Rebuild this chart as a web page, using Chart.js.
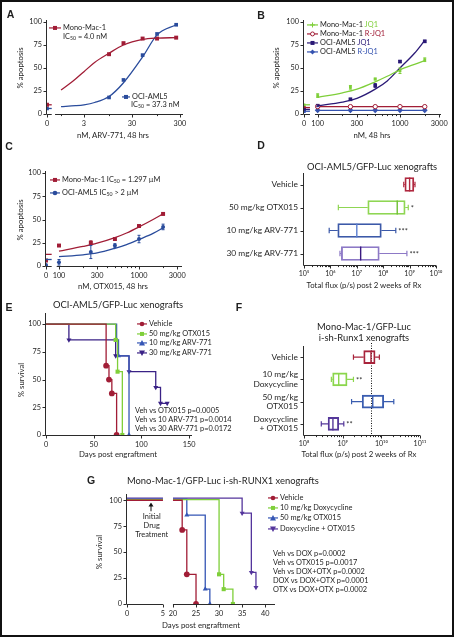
<!DOCTYPE html>
<html>
<head>
<meta charset="utf-8">
<script src="https://cdn.jsdelivr.net/npm/chart.js@4.4.1/dist/chart.umd.min.js"></script>
<style>
  html, body { margin: 0; padding: 0; background: #fff; }
  #fig { position: relative; width: 454px; height: 637px; overflow: hidden; font-family: Lato, 'Open Sans', sans-serif; color: #1e1e1e; }
  #fig canvas { position: absolute; }
  #frame { position: absolute; left: 0; top: 0; width: 454px; height: 637px; border: 2px solid #111; box-sizing: border-box; }
  .t { position: absolute; white-space: nowrap; line-height: 1; }
  .L { font: 700 10.5px 'Liberation Sans', Arial, sans-serif; }
  .H { font-size: 9.4px; }
  .X { font-size: 7.8px; }
  .G { font-size: 7.4px; }
  .t svg { vertical-align: middle; margin-right: 2px; }
  sub { font-size: 70%; vertical-align: -1px; line-height: 0; }
</style>
</head>
<body>
<div id="fig"><div id="frame"></div></div>
<script>
// ---------- data ----------
const pctTicks = [0, 25, 50, 75, 100];

// A: ARV-771 dose response
const aConc       = [0, 10, 20, 50, 100, 250];
const aMonoMac    = [10, 65, 77, 82, 82, 83];
const aOciAml5    = [6, 18, 37, 64, 87, 97];
const aFitConc    = [1, 2, 3, 5, 10, 20, 50, 100, 250];
const aFitMonoMac = [26, 38, 46, 56, 66, 75, 81, 82.5, 83];
const aFitOciAml5 = [8, 9, 10, 12.5, 19, 34, 62, 86, 97];
const aXTicks     = [0, 1, 3, 10, 30, 100, 300];
const aXLabels    = ['0', '', '3', '', '30', '', '300'];

// B: JQ1 / R-JQ1
const bConc        = [0, 100, 250, 500, 1000, 2000];
const bMonoJQ1     = [10, 20, 29, 38, 47, 59];
const bMonoJQ1Err  = [0, 2, 2, 1, 3, 2];
const bMonoRJQ1    = [7, 8, 8, 8, 8, 8];
const bOciJQ1      = [5, 9, 16, 31, 57, 79];
const bOciJQ1Err   = [0, 1, 1, 2, 1, 1];
const bOciRJQ1     = [3, 4, 4, 4, 4, 4];
const bFitConc     = [100, 200, 300, 500, 700, 1000, 1500, 2000];
const bFitMonoJQ1  = [18, 23, 27, 35, 41, 48, 54, 58];
const bFitOciJQ1   = [9, 13, 17, 27, 36, 50, 66, 80];
const bXTicks      = [0, 100, 200, 300, 400, 500, 600, 700, 800, 900, 1000, 2000, 3000];
const bXLabels     = ['0', '100', '', '300', '', '', '', '', '', '', '1000', '', '3000'];

// C: OTX015 dose response
const cConc        = [0, 100, 250, 500, 1000, 2000];
const cMonoMac     = [6, 22, 25, 29, 43, 56];
const cMonoMacErr  = [0, 0, 2, 1, 1, 1];
const cOciAml5     = [1, 4, 15, 22, 29, 42];
const cOciAml5Err  = [0, 3, 7, 2, 4, 3];
const cZeroFit     = [12.5, 7];
const cFitConc     = [100, 200, 300, 500, 700, 1000, 1500, 2000];
const cFitMonoMac  = [16, 21, 24.5, 30.5, 35.5, 42, 50, 56];
const cFitOciAml5  = [10, 12, 14, 19, 23, 28.5, 35, 41];

// D: OCI-AML5 xenograft flux
const dGroups = ['Vehicle', '50 mg/kg OTX015', '10 mg/kg ARV-771', '30 mg/kg ARV-771'];
const dMin    = [6.0e8, 2.0e6, 9.0e5, 2.3e6];
const dQ1     = [6.6e8, 2.6e7, 1.9e6, 2.6e6];
const dMedian = [1.0e9, 3.4e8, 1.0e7, 1.4e7];
const dQ3     = [1.45e9, 6.8e8, 8.5e7, 7.1e7];
const dMax    = [1.6e9, 8.9e8, 3.0e8, 7.9e8];
const dStars  = ['', '*', '***', '***'];

// E: OCI-AML5 survival
const eVehDays   = [0, 63, 66, 69, 74];
const eVehSurv   = [100, 62.5, 50, 37.5, 0];
const eOtxDays   = [0, 73, 75, 80];
const eOtxSurv   = [100, 85.7, 57.1, 0];
const eArv10Days = [0, 74, 76, 87];
const eArv10Surv = [100, 85.7, 71.4, 0];
const eArv30Days = [0, 24, 73, 87, 115, 120, 127];
const eArv30Surv = [100, 85.7, 71.4, 57.1, 42.9, 28.6, 28.6];

// F: Mono-Mac-1 xenograft flux
const fGroups  = ['Vehicle', ['10 mg/kg', 'Doxycycline'], ['50 mg/kg', 'OTX015'], ['Doxycycline', '+ OTX015']];
const fMin     = [1.9e9, 5.1e8, 1.7e9, 2.8e8];
const fQ1      = [3.5e9, 5.5e8, 3.2e9, 4.2e8];
const fMedian  = [5.4e9, 7.9e8, 6.0e9, 5.6e8];
const fQ3      = [6.9e9, 1.3e9, 1.15e10, 7.9e8];
const fMax     = [8.9e9, 1.9e9, 2.1e10, 1.07e9];
const fStars   = ['', '**', '', '**'];
const fRefLine = 5.4e9;

// G: Mono-Mac-1 survival (broken day axis)
const gLeftDays  = [0, 5];
const gVehDays   = [20, 22, 23, 25];
const gVehSurv   = [100, 71.4, 28.6, 0];
const gDoxDays   = [20, 30, 31, 33];
const gDoxSurv   = [100.5, 28.6, 14.3, 0];
const gOtxDays   = [20, 23, 27, 28];
const gOtxSurv   = [101, 85.7, 14.3, 0];
const gComboDays = [20, 35, 37, 38];
const gComboSurv = [102, 87.5, 30.5, 16];
const gXTicks    = [0, 5, 20, 25, 30, 35, 40];

// ---------- colours ----------
const RED = '#a11d36', BLUE = '#2a4c9c', GREEN = '#7fcf3a', NAVY = '#2a1976', BBLUE = '#3553b0';
const EBLUE = '#3556b5', EPURPLE = '#3a2286', GPURPLE = '#54359c';
const FONT = "Lato, 'Open Sans', sans-serif";
Chart.defaults.font.family = FONT;
Chart.defaults.color = '#1e1e1e';

// ---------- plugins ----------
const axesPlugin = {
  id: 'axes',
  beforeDatasetsDraw(chart) {
    const o = chart.options.plugins.axes || {};
    const { ctx, chartArea: ca, scales: { x, y } } = chart;
    const by = Math.round(ca.bottom) + 0.5, lx = Math.round(ca.left) - 0.5;
    ctx.save();
    ctx.strokeStyle = '#2b2b2b';
    ctx.lineWidth = 1;
    ctx.beginPath();
    const segs = o.xSeg ? o.xSeg.map(([a, b]) => [x.getPixelForValue(a), x.getPixelForValue(b)]) : [[lx, ca.right]];
    segs.forEach(([a, b]) => { ctx.moveTo(a, by); ctx.lineTo(b, by); });
    ctx.moveTo(lx, by);
    ctx.lineTo(lx, ca.top - (o.yExtra || 0));
    x.ticks.forEach((t, i) => {
      const p = Math.round(x.getPixelForTick(i)) + 0.5;
      ctx.moveTo(p, by);
      ctx.lineTo(p, by + (t.label !== '' ? 3 : 1.6));
    });
    y.ticks.forEach((t, i) => {
      const p = Math.round(y.getPixelForTick(i)) + 0.5;
      ctx.moveTo(lx, p);
      ctx.lineTo(lx - 3, p);
    });
    ctx.stroke();
    if (o.refLine) {
      const p = Math.round(x.getPixelForValue(o.refLine)) + 0.5;
      ctx.setLineDash([1, 1.5]);
      ctx.strokeStyle = '#111';
      ctx.beginPath();
      ctx.moveTo(p, ca.top - 3);
      ctx.lineTo(p, ca.bottom);
      ctx.stroke();
    }
    ctx.restore();
  }
};

const errPlugin = {
  id: 'errs',
  afterDatasetsDraw(chart) {
    const { ctx, scales: { y } } = chart;
    chart.data.datasets.forEach((ds, di) => {
      if (!ds.errors) return;
      const meta = chart.getDatasetMeta(di);
      ctx.save();
      ctx.strokeStyle = ds.borderColor;
      ctx.lineWidth = 1;
      ctx.beginPath();
      meta.data.forEach((pt, i) => {
        const e = ds.errors[i];
        if (!e) return;
        const v = ds.data[i].y, y0 = y.getPixelForValue(v - e), y1 = y.getPixelForValue(v + e);
        ctx.moveTo(pt.x, y0); ctx.lineTo(pt.x, y1);
        ctx.moveTo(pt.x - 1.5, y0); ctx.lineTo(pt.x + 1.5, y0);
        ctx.moveTo(pt.x - 1.5, y1); ctx.lineTo(pt.x + 1.5, y1);
      });
      ctx.stroke();
      ctx.restore();
    });
  }
};

const boxPlugin = {
  id: 'boxes',
  afterDatasetsDraw(chart) {
    const { ctx, scales: { x } } = chart;
    chart.data.datasets.forEach((ds, di) => {
      if (!ds.box) return;
      chart.getDatasetMeta(di).data.forEach((el, i) => {
        const y = el.y, h = el.height, b = ds.box;
        const pMin = x.getPixelForValue(b.min[i]), pMax = x.getPixelForValue(b.max[i]);
        const pQ1 = x.getPixelForValue(ds.data[i][0]), pQ3 = x.getPixelForValue(ds.data[i][1]);
        const pMed = x.getPixelForValue(b.median[i]);
        ctx.save();
        ctx.strokeStyle = ds.borderColor[i];
        ctx.lineWidth = 1.2;
        ctx.beginPath();
        ctx.moveTo(pMin, y); ctx.lineTo(pQ1, y);
        ctx.moveTo(pQ3, y); ctx.lineTo(pMax, y);
        ctx.moveTo(pMin, y - h * 0.2); ctx.lineTo(pMin, y + h * 0.2);
        ctx.moveTo(pMax, y - h * 0.2); ctx.lineTo(pMax, y + h * 0.2);
        ctx.stroke();
        ctx.strokeStyle = b.medColor[i];
        ctx.lineWidth = 1.4;
        ctx.beginPath();
        ctx.moveTo(pMed, y - h / 2); ctx.lineTo(pMed, y + h / 2);
        ctx.stroke();
        if (b.stars[i]) {
          ctx.fillStyle = '#333';
          ctx.font = `7.5px ${FONT}`;
          ctx.textBaseline = 'middle';
          ctx.fillText(b.stars[i], pMax + 2.5, y + 1);
        }
        ctx.restore();
      });
    });
  }
};

// ---------- helpers ----------
const fig = document.getElementById('fig');

function panel(rect, config, pl = 40) {
  const PR = 18, PT = 8, PB = 24;
  const w = rect.r - rect.l + pl + PR, h = rect.b - rect.t + PT + PB;
  const c = document.createElement('canvas');
  c.width = w; c.height = h;
  c.style.left = (rect.l - pl) + 'px';
  c.style.top = (rect.t - PT) + 'px';
  c.style.width = w + 'px';
  c.style.height = h + 'px';
  fig.insertBefore(c, fig.firstChild);
  const o = config.options;
  o.responsive = false;
  o.animation = false;
  o.events = [];
  o.layout = { padding: { top: PT, right: PR, left: 0, bottom: 0 } };
  o.plugins = Object.assign({ legend: { display: false }, tooltip: { enabled: false } }, o.plugins);
  o.scales.x.afterFit = s => { s.height = PB; s.paddingLeft = 0; s.paddingRight = 0; };
  o.scales.y.afterFit = s => { s.width = pl; s.paddingTop = 0; s.paddingBottom = 0; };
  config.plugins = [axesPlugin, errPlugin, boxPlugin];
  return new Chart(c, config);
}

function axis(type, min, max, tickVals, labels, size = 7.3) {
  return {
    type, min, max, bounds: 'data',
    grid: { display: false, drawTicks: false },
    border: { display: false },
    afterBuildTicks: s => { s.ticks = tickVals.map(v => ({ value: v })); },
    ticks: { autoSkip: false, maxRotation: 0, padding: 5, font: { size }, callback: (v, i) => labels[i] }
  };
}

function catAxis() {
  return {
    type: 'category',
    grid: { display: false, drawTicks: false },
    border: { display: false },
    ticks: { padding: 6, font: { size: 8.4, lineHeight: 1.12 }, color: '#1e1e1e' }
  };
}

const sup = n => '10' + String(n).split('').map(d => '⁰¹²³⁴⁵⁶⁷⁸⁹'[d]).join('');
function logTicks(e0, e1) {
  const v = [], l = [];
  for (let e = e0; e <= e1; e++) {
    v.push(10 ** e); l.push(sup(e));
    if (e < e1) for (let k = 2; k <= 9; k++) { v.push(k * 10 ** e); l.push(''); }
  }
  return [v, l];
}

const pts = (xs, ys, zero) => xs.map((c, i) => ({ x: c === 0 ? zero : c, y: ys[i] }));
const scatter = (data, color, style, r, extra = {}) => Object.assign({
  data, showLine: false, borderColor: color, backgroundColor: color, pointStyle: style, pointRadius: r, pointBorderWidth: 0
}, extra);
const curve = (data, color) => ({ data, borderColor: color, borderWidth: 1.3, pointRadius: 0, cubicInterpolationMode: 'monotone' });
const stub = (a, b, v, color) => ({ data: [{ x: a, y: v }, { x: b, y: v }], borderColor: color, borderWidth: 1.3, pointRadius: 0 });

// ---------- A ----------
const A_ZERO = 0.51, A_ZERO_END = 0.64, A_LOG_START = 0.75, A_MAX = 347;
panel({ l: 47, r: 183, t: 22, b: 114 }, {
  type: 'line',
  data: { datasets: [
    stub(A_ZERO, A_ZERO_END, aMonoMac[0], RED),
    stub(A_ZERO, A_ZERO_END, aOciAml5[0], BLUE),
    curve(pts(aFitConc, aFitMonoMac), RED),
    curve(pts(aFitConc, aFitOciAml5), BLUE),
    scatter(pts(aConc, aMonoMac, A_ZERO), RED, 'rect', 2.8),
    scatter(pts(aConc, aOciAml5, A_ZERO), BLUE, 'rect', 2.6)
  ] },
  options: {
    plugins: { axes: { xSeg: [[A_ZERO, A_ZERO_END], [A_LOG_START, A_MAX]], yExtra: 2 } },
    scales: {
      x: axis('logarithmic', A_ZERO, A_MAX, aXTicks.map(v => v || A_ZERO), aXLabels),
      y: axis('linear', 0, 100, pctTicks, pctTicks.map(String))
    }
  }
});

// ---------- B ----------
const B_ZERO = 68.2, B_ZERO_END = 80.6, B_LOG_START = 92.7, B_MAX = 3150;
panel({ l: 304, r: 441, t: 22, b: 114 }, {
  type: 'line',
  data: { datasets: [
    stub(B_ZERO, B_ZERO_END, bMonoJQ1[0], GREEN),
    stub(B_ZERO, B_ZERO_END, bMonoRJQ1[0], RED),
    stub(B_ZERO, B_ZERO_END, bOciJQ1[0], NAVY),
    stub(B_ZERO, B_ZERO_END, bOciRJQ1[0], BBLUE),
    curve(pts(bFitConc, bFitMonoJQ1), GREEN),
    curve(pts(bFitConc, bFitOciJQ1), NAVY),
    Object.assign(curve(pts(bConc.slice(1), bMonoRJQ1.slice(1)), RED), { pointRadius: 2.2, pointStyle: 'circle', pointBackgroundColor: '#fff', pointBorderWidth: 1 }),
    Object.assign(curve(pts(bConc.slice(1), bOciRJQ1.slice(1)), BBLUE), { pointRadius: 2, pointStyle: 'rectRot', pointBackgroundColor: BBLUE }),
    scatter(pts(bConc, bMonoJQ1, B_ZERO), GREEN, 'rect', 2, { errors: bMonoJQ1Err }),
    scatter(pts(bConc, bOciJQ1, B_ZERO), NAVY, 'rect', 2.6, { errors: bOciJQ1Err }),
    scatter(pts([0], [bMonoRJQ1[0]], B_ZERO), RED, 'rect', 2.4),
    scatter(pts([0], [bOciRJQ1[0]], B_ZERO), BBLUE, 'rect', 2.4)
  ] },
  options: {
    plugins: { axes: { xSeg: [[B_ZERO, B_ZERO_END], [B_LOG_START, B_MAX]], yExtra: 2 } },
    scales: {
      x: axis('logarithmic', B_ZERO, B_MAX, bXTicks.map(v => v || B_ZERO), bXLabels),
      y: axis('linear', 0, 100, pctTicks, pctTicks.map(String))
    }
  }
});

// ---------- C ----------
const C_ZERO = 68.8, C_ZERO_END = 81, C_LOG_START = 93.6, C_MAX = 3447;
panel({ l: 46, r: 182, t: 173, b: 266 }, {
  type: 'line',
  data: { datasets: [
    stub(C_ZERO, C_ZERO_END, cZeroFit[0], RED),
    stub(C_ZERO, C_ZERO_END, cZeroFit[1], BLUE),
    curve(pts(cFitConc, cFitMonoMac), RED),
    curve(pts(cFitConc, cFitOciAml5), BLUE),
    scatter(pts(cConc, cMonoMac, C_ZERO), RED, 'rect', 2.8, { errors: cMonoMacErr }),
    scatter(pts(cConc, cOciAml5, C_ZERO), BLUE, 'circle', 2, { errors: cOciAml5Err })
  ] },
  options: {
    plugins: { axes: { xSeg: [[C_ZERO, C_ZERO_END], [C_LOG_START, C_MAX]], yExtra: 2 } },
    scales: {
      x: axis('logarithmic', C_ZERO, C_MAX, bXTicks.map(v => v || C_ZERO), bXLabels),
      y: axis('linear', 0, 100, pctTicks, pctTicks.map(String))
    }
  }
});

// ---------- D ----------
const [dTickV, dTickL] = logTicks(5, 10);
panel({ l: 304, r: 436, t: 173, b: 265 }, {
  type: 'bar',
  data: { labels: dGroups, datasets: [{
    data: dGroups.map((_, i) => [dQ1[i], dQ3[i]]),
    backgroundColor: 'rgba(255,255,255,0)',
    borderColor: ['#b0283f', '#8fd653', '#3c59a8', '#8d79c6'],
    borderWidth: 1.2, borderSkipped: false, barThickness: 14,
    box: { min: dMin, median: dMedian, max: dMax, stars: dStars, medColor: ['#b0283f', '#6fbf34', '#5b7fd0', '#3a1a80'] }
  }] },
  options: {
    indexAxis: 'y',
    scales: { x: axis('logarithmic', 1e5, 1e10, dTickV, dTickL, 7), y: catAxis() }
  }
}, 80);

// ---------- E ----------
function km(days, surv, color, style, rot = 0) {
  return {
    data: days.map((d, i) => ({ x: d, y: surv[i] })),
    borderColor: color, backgroundColor: color, borderWidth: 1.3, stepped: true,
    pointStyle: style, pointRotation: rot, pointBorderWidth: 0,
    pointRadius: days.map((_, i) => (i === 0 ? 0 : 2.9))
  };
}
panel({ l: 46, r: 192, t: 313, b: 435 }, {
  type: 'line',
  data: { datasets: [
    km(eVehDays, eVehSurv, RED, 'circle'),
    km(eOtxDays, eOtxSurv, GREEN, 'rect'),
    km(eArv10Days, eArv10Surv, EBLUE, 'triangle'),
    km(eArv30Days, eArv30Surv, EPURPLE, 'triangle', 180)
  ] },
  options: {
    scales: {
      x: axis('linear', 0, 153, [0, 50, 100, 150], ['0', '50', '100', '150']),
      y: axis('linear', 0, 110, pctTicks, pctTicks.map(String))
    }
  }
});

// ---------- F ----------
const [fTickV, fTickL] = logTicks(8, 11);
panel({ l: 304, r: 420, t: 346, b: 435 }, {
  type: 'bar',
  data: { labels: fGroups, datasets: [{
    data: fGroups.map((_, i) => [fQ1[i], fQ3[i]]),
    backgroundColor: 'rgba(255,255,255,0)',
    borderColor: ['#a8233b', '#8bd64c', '#3a5db0', '#55389a'],
    borderWidth: 1.2, borderSkipped: false, barThickness: 13,
    box: { min: fMin, median: fMedian, max: fMax, stars: fStars, medColor: ['#a8233b', '#8bd64c', '#3a5db0', '#55389a'] }
  }] },
  options: {
    indexAxis: 'y',
    plugins: { axes: { refLine: fRefLine } },
    scales: { x: axis('logarithmic', 1e8, 1e11, fTickV, fTickL, 7), y: catAxis() }
  }
}, 80);

// ---------- G ----------
const G_LEFT_STRETCH = 1.56, G_RIGHT_START = 9.97, G_MAX = 32.1;
const gx = d => (d <= 5 ? d * G_LEFT_STRETCH : G_RIGHT_START + d - 20);
function kmG(days, surv, color, style, rot = 0) {
  const right = km(days.map(gx), surv, color, style, rot);
  const left = { data: gLeftDays.map(d => ({ x: gx(d), y: surv[0] })), borderColor: color, borderWidth: 1.3, pointRadius: 0 };
  return [left, right];
}
panel({ l: 127, r: 275, t: 494, b: 604 }, {
  type: 'line',
  data: { datasets: [
    ...kmG(gVehDays, gVehSurv, RED, 'circle'),
    ...kmG(gDoxDays, gDoxSurv, GREEN, 'rect'),
    ...kmG(gOtxDays, gOtxSurv, EBLUE, 'triangle'),
    ...kmG(gComboDays, gComboSurv, GPURPLE, 'triangle', 180)
  ] },
  options: {
    plugins: { axes: { xSeg: [[0, gx(5)], [gx(20), G_MAX]] } },
    scales: {
      x: axis('linear', 0, G_MAX, gXTicks.map(gx), gXTicks.map(String)),
      y: axis('linear', 0, 106, pctTicks, pctTicks.map(String))
    }
  }
});

// ---------- text ----------
function text(x, y, html, anchor = 'l', cls = 'G', rotate = false) {
  const d = document.createElement('div');
  d.className = 't ' + cls;
  d.innerHTML = html;
  d.style.left = x + 'px';
  d.style.top = y + 'px';
  const tx = anchor === 'c' ? '-50%' : anchor === 'r' ? '-100%' : '0';
  d.style.transform = `translate(${tx}, -50%)` + (rotate ? ' rotate(-90deg)' : '');
  fig.appendChild(d);
}

function marker(color, shape, w) {
  const c = w / 2;
  let m = '';
  if (shape === 'rect') m = `<rect x="${c - 2}" y="2" width="4" height="4" fill="${color}"/>`;
  if (shape === 'circle') m = `<circle cx="${c}" cy="4" r="2.3" fill="${color}"/>`;
  if (shape === 'ocircle') m = `<circle cx="${c}" cy="4" r="2" fill="#fff" stroke="${color}" stroke-width="1"/>`;
  if (shape === 'tri') m = `<polygon points="${c},1 ${c + 3},6.5 ${c - 3},6.5" fill="${color}"/>`;
  if (shape === 'triDown') m = `<polygon points="${c - 3},1.5 ${c + 3},1.5 ${c},7" fill="${color}"/>`;
  if (shape === 'plus') m = `<path d="M${c} 1.5V6.5M${c - 2.5} 4H${c + 2.5}" stroke="${color}" stroke-width="1"/>`;
  if (shape === 'diamond') m = `<polygon points="${c},1.5 ${c + 2.5},4 ${c},6.5 ${c - 2.5},4" fill="${color}"/>`;
  return `<svg width="${w}" height="8"><line x1="0" y1="4" x2="${w}" y2="4" stroke="${color}" stroke-width="1.2"/>${m}</svg>`;
}
const legend = (x, y, color, shape, w, html) => text(x, y, marker(color, shape, w) + html, 'l', 'G');
const col = (c, s) => `<span style="color:${c}">${s}</span>`;

// panel letters
[[10.5, 13.5, 'A'], [261, 15, 'B'], [9, 146, 'C'], [261, 145, 'D'], [9, 306.5, 'E'], [239, 306.5, 'F'], [91, 480, 'G']]
  .forEach(([x, y, s]) => text(x, y, s, 'c', 'L'));

// A
text(21, 68, '% apoptosis', 'c', 'X', true);
text(113, 136, 'nM, ARV-771, 48 hrs', 'c', 'X');
legend(49, 28, RED, 'rect', 12, 'Mono-Mac-1');
text(63, 36.5, 'IC<sub>50</sub> = 4.0 nM');
legend(122, 97, BLUE, 'rect', 8, 'OCI-AML5');
text(131, 104.5, 'IC<sub>50</sub> = 37.3 nM');

// B
text(277, 68, '% apoptosis', 'c', 'X', true);
text(372, 136, 'nM, 48 hrs', 'c', 'X');
legend(307, 25, GREEN, 'plus', 11, 'Mono-Mac-1 ' + col(GREEN, 'JQ1'));
legend(307, 34, RED, 'ocircle', 11, 'Mono-Mac-1 ' + col(RED, 'R-JQ1'));
legend(307, 43.3, NAVY, 'rect', 11, 'OCI-AML5 ' + col(NAVY, 'JQ1'));
legend(307, 52.3, BBLUE, 'diamond', 11, 'OCI-AML5 ' + col(BBLUE, 'R-JQ1'));

// C
text(21, 220, '% apoptosis', 'c', 'X', true);
text(113, 286.5, 'nM, OTX015, 48 hrs', 'c', 'X');
legend(50, 180, RED, 'rect', 10, 'Mono-Mac-1 IC<sub>50</sub> = 1.297 µM');
legend(50, 193.3, BLUE, 'circle', 10, 'OCI-AML5 IC<sub>50</sub> &gt; 2 µM');

// D
text(372, 166.5, 'OCI-AML5/GFP-Luc xenografts', 'c', 'H');
text(364, 285.5, 'Total flux (p/s) post 2 weeks of Rx', 'c', 'X');

// E
text(118, 305, 'OCI-AML5/GFP-Luc xenografts', 'c', 'H');
text(21.5, 380, '% survival', 'c', 'X', true);
text(118, 455, 'Days post engraftment', 'c', 'X');
legend(137, 324, RED, 'circle', 10, 'Vehicle');
legend(137, 333.7, GREEN, 'rect', 10, '50 mg/kg OTX015');
legend(137, 343.3, EBLUE, 'tri', 10, '10 mg/kg ARV-771');
legend(137, 353.3, EPURPLE, 'triDown', 10, '30 mg/kg ARV-771');
['Veh vs OTX015 p=0.0005', 'Veh vs 10 ARV-771 p=0.0014', 'Veh vs 30 ARV-771 p=0.0172']
  .forEach((s, i) => text(135, 411 + i * 9.2, s));

// F
text(364, 326.5, 'Mono-Mac-1/GFP-Luc', 'c', 'H');
text(364, 337.5, 'i-sh-Runx1 xenografts', 'c', 'H');
text(359, 455, 'Total flux (p/s) post 2 weeks of Rx', 'c', 'X');

// G
text(127, 481, 'Mono-Mac-1/GFP-Luc i-sh-RUNX1 xenografts', 'l', 'H');
text(100, 552, '% survival', 'c', 'X', true);
text(201, 625.5, 'Days post engraftment', 'c', 'X');
legend(268, 497.7, RED, 'circle', 10, 'Vehicle');
legend(268, 507.7, GREEN, 'rect', 10, '10 mg/kg Doxycycline');
legend(268, 518.3, EBLUE, 'tri', 10, '50 mg/kg OTX015');
legend(268, 529, GPURPLE, 'triDown', 10, 'Doxycycline + OTX015');
['Veh vs DOX p=0.0002', 'Veh vs OTX015 p=0.0017', 'Veh vs DOX+OTX p=0.0002', 'DOX vs DOX+OTX p=0.0001', 'OTX vs DOX+OTX p=0.0002']
  .forEach((s, i) => text(273, 554 + i * 9, s));
text(151.7, 506.5, '<svg width="6" height="9"><path d="M3 9V2" stroke="#111" stroke-width="1"/><polygon points="3,0 5.5,4 0.5,4" fill="#111"/></svg>', 'c', 'G');
['Initial', 'Drug', 'Treatment'].forEach((s, i) => text(151.7, 517.3 + i * 9, s, 'c', 'G'));
</script>
</body>
</html>
